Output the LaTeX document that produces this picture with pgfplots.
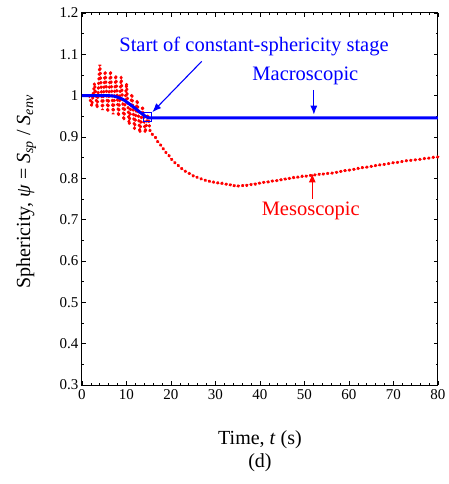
\documentclass[border=0pt]{standalone}
\usepackage{pgfplots}
\pgfplotsset{compat=1.18}
\usepackage{fontspec}
\setmainfont{Liberation Serif}
\usetikzlibrary{arrows.meta,calc}
\begin{document}
\begin{tikzpicture}
\begin{axis}[
  name=ax,
  scale only axis,
  width=356pt, height=372pt,
  xmin=0, xmax=80, ymin=0.3, ymax=1.2,
  xtick={0,10,...,80},
  ytick={0.3,0.4,...,1.2},
  yticklabels={0.3,0.4,0.5,0.6,0.7,0.8,0.9,1,1.1,1.2},
  minor x tick num=4,
  minor y tick num=1,
  tick align=inside,
  major tick length=4pt,
  minor tick length=2.2pt,
  every tick/.style={black, line width=0.6pt},
  axis line style={line width=1pt},
  tick label style={font=\fontsize{15}{18}\selectfont},
  /pgf/number format/assume math mode=true,
  xticklabel style={yshift=-1pt},
  xlabel={Time, \textit{t} (s)},
  xlabel style={font=\fontsize{20}{24}\selectfont, at={(axis description cs:0.5,-0.148)}, anchor=center},
  ylabel={Sphericity, \textit{ψ} = \textit{S}\textsubscript{\textit{sp}} / \textit{S}\textsubscript{\textit{env}}},
  ylabel style={font=\fontsize{20}{24}\selectfont, at={(axis description cs:-0.157,0.519)}, anchor=center},
  clip=false,
]
% Mesoscopic (red dots)
\addplot[red, line width=3pt, line cap=round, dash pattern=on 0.8pt off 3.8pt] coordinates {
(1.6,1.0) (2.2,0.975) (2.8,1.03) (3.4,0.97) (4.0,1.075) (4.6,0.965) (5.2,1.06) (5.8,0.96)
(6.4,1.06) (7.0,0.955) (7.6,1.05) (8.2,0.95) (8.8,1.045) (9.4,0.94) (10.0,1.03) (10.6,0.93)
(11.2,1.005) (11.8,0.92) (12.4,0.99) (13.0,0.91) (13.6,0.975) (14.2,0.91) (14.8,0.955) (15.3,0.915)
(15.5,0.912) (16,0.903) (16.5,0.899) (17,0.889) (17.5,0.884) (18,0.874) (18.5,0.869) (19,0.860)
(19.5,0.856) (20,0.847) (20.5,0.843) (21,0.836) (21.5,0.833) (22,0.826) (22.5,0.823) (23,0.818)
(23.5,0.816) (24,0.812) (24.5,0.811) (25,0.806) (25.5,0.806) (26,0.801) (26.5,0.801) (27,0.797)
(27.5,0.797) (28,0.793) (28.5,0.794) (29,0.790) (29.5,0.791) (30,0.788) (30.5,0.789) (31,0.786)
(31.5,0.788) (32,0.785) (32.5,0.786) (33,0.783) (33.5,0.785) (34,0.781) (34.5,0.784) (35,0.781)
(35.5,0.783) (36,0.782) (36.5,0.785) (37,0.783) (37.5,0.786) (38,0.785) (38.5,0.788) (39,0.786)
(39.5,0.789) (40,0.788) (40.5,0.791) (41,0.790) (41.5,0.792) (42,0.791) (42.5,0.794) (43,0.793)
(43.5,0.795) (44,0.794) (44.5,0.797) (45,0.796) (45.5,0.799) (46,0.797) (46.5,0.800) (47,0.799)
(47.5,0.802) (48,0.800) (48.5,0.803) (49,0.802) (49.5,0.805) (50,0.803) (50.5,0.806) (51,0.805)
(51.5,0.808) (52,0.807) (52.5,0.809) (53,0.808) (53.5,0.811) (54,0.809) (54.5,0.812) (55,0.811)
(55.5,0.813) (56,0.812) (57,0.815) (57.5,0.814) (58,0.817) (58.5,0.816) (59,0.819) (59.5,0.818)
(60,0.820) (60.5,0.820) (61,0.822) (61.5,0.821) (62,0.824) (62.5,0.823) (63,0.826) (63.5,0.825)
(64,0.827) (64.5,0.827) (65,0.829) (65.5,0.828) (66,0.831) (66.5,0.830) (67,0.833) (67.5,0.832)
(68,0.834) (68.5,0.834) (69,0.836) (69.5,0.836) (70,0.838) (70.5,0.837) (71,0.839) (71.5,0.839)
(72,0.841) (72.5,0.841) (73,0.843) (73.5,0.842) (74,0.844) (74.5,0.844) (75,0.845) (75.5,0.845)
(76,0.846) (76.5,0.846) (77,0.848) (77.5,0.847) (78,0.849) (78.5,0.849) (79,0.851) (79.5,0.850)
(80,0.852)
};
% Macroscopic (blue line)
\addplot[blue, line width=3pt] coordinates {
(0,1.0) (6,1.0) (6.8,0.9995) (7.5,0.998) (8.3,0.995) (9,0.992) (9.5,0.989) (10,0.985) (10.5,0.981) (11,0.977) (11.5,0.973) (12,0.969) (12.5,0.9645) (13,0.960) (13.5,0.956) (14,0.952) (14.4,0.949) (14.8,0.947) (15.3,0.946) (80,0.946)
};
% start marker
\addplot[blue, only marks, mark=square, mark size=4.3pt, mark options={line width=0.8pt}] coordinates {(14.7,0.948)};
% annotations
\node[blue, font=\fontsize{20.5}{24}\selectfont] at (axis cs:38.65,1.1195) {Start of constant-sphericity stage};
\draw[blue, line width=1.1pt, -{Latex[length=9pt,width=7pt]}] (axis cs:26.9,1.083) -- (axis cs:15.8,0.960);
\node[blue, font=\fontsize{20.5}{24}\selectfont] at (axis cs:50.2,1.048) {Macroscopic};
\draw[blue, line width=1.1pt, -{Latex[length=9pt,width=7pt]}] (axis cs:52.1,1.014) -- (axis cs:52.1,0.954);
\node[red, font=\fontsize{20.5}{24}\selectfont] at (axis cs:51.4,0.721) {Mesoscopic};
\draw[red, line width=1.1pt, -{Latex[length=9pt,width=7pt]}] (axis cs:51.75,0.750) -- (axis cs:51.75,0.812);
\end{axis}
\node[font=\fontsize{20}{24}\selectfont] at ($(ax.south)+(0,-78pt)$) {(d)};
\pgfresetboundingbox
\path ($(ax.south west)+(-82pt,-99pt)$) rectangle ($(ax.north east)+(11pt,13pt)$);
\end{tikzpicture}
\end{document}
